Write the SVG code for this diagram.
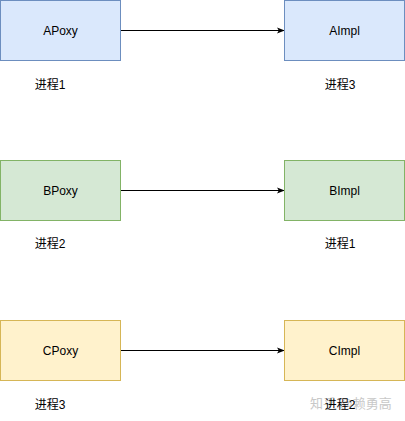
<svg xmlns="http://www.w3.org/2000/svg" width="405" height="421" viewBox="0 0 405 421">
<defs>
<marker id="arr" viewBox="0 0 10 10" refX="9" refY="5" markerWidth="8" markerHeight="8" markerUnits="userSpaceOnUse" orient="auto"><path d="M0,1 L10,5 L0,9 L2.5,5 Z" fill="#000"/></marker>
<style>
text{font-family:"Liberation Sans","Noto Sans CJK SC",sans-serif;font-size:12px;fill:#000;text-anchor:middle}
.blue{fill:#dae8fc;stroke:#6c8ebf}
.green{fill:#d5e8d4;stroke:#82b366}
.yellow{fill:#fff2cc;stroke:#d6b656}
.edge{stroke:#000;fill:none;marker-end:url(#arr)}
.wm{fill:#c8c8c8;font-size:13px;text-anchor:start}
</style>
</defs>
<rect width="405" height="421" fill="#fff"/>
<g id="connectors">
<line class="edge" x1="120.5" y1="30.5" x2="284" y2="30.5"/>
<line class="edge" x1="120.5" y1="190.5" x2="284" y2="190.5"/>
<line class="edge" x1="120.5" y1="350.5" x2="284" y2="350.5"/>
</g>
<g id="APoxy"><rect class="blue" x="0.5" y="0.5" width="120" height="60"/><text x="60.5" y="34.5">APoxy</text></g>
<g id="AImpl"><rect class="blue" x="284.5" y="0.5" width="120" height="60"/><text x="344.5" y="34.5">AImpl</text></g>
<g id="BPoxy"><rect class="green" x="0.5" y="160.5" width="120" height="60"/><text x="60.5" y="194.5">BPoxy</text></g>
<g id="BImpl"><rect class="green" x="284.5" y="160.5" width="120" height="60"/><text x="344.5" y="194.5">BImpl</text></g>
<g id="CPoxy"><rect class="yellow" x="0.5" y="320.5" width="120" height="60"/><text x="60.5" y="354.5">CPoxy</text></g>
<g id="CImpl"><rect class="yellow" x="284.5" y="320.5" width="120" height="60"/><text x="344.5" y="354.5">CImpl</text></g>
<g id="labels">
<text x="50" y="89">进程1</text>
<text x="340" y="89">进程3</text>
<text x="50" y="248">进程2</text>
<text x="340" y="248">进程1</text>
<text x="50" y="409">进程3</text>
<text class="wm" x="310" y="408">知乎 @赖勇高</text>
<text x="340" y="409">进程2</text>
</g>
</svg>
